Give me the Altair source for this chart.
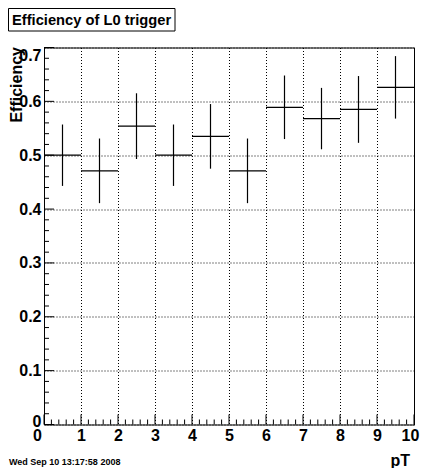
import altair as alt
import pandas as pd

# ---- data ----
bin_low = [0, 1, 2, 3, 4, 5, 6, 7, 8, 9]
bin_high = [1, 2, 3, 4, 5, 6, 7, 8, 9, 10]
efficiency = [0.500, 0.471, 0.554, 0.500, 0.535, 0.471, 0.589, 0.568, 0.585, 0.626]
error = [0.057, 0.060, 0.061, 0.057, 0.060, 0.060, 0.059, 0.057, 0.062, 0.058]

x_major = [0, 1, 2, 3, 4, 5, 6, 7, 8, 9, 10]
x_minor = [round(i * 0.2, 1) for i in range(51) if i % 5 != 0]
y_major = [0, 0.1, 0.2, 0.3, 0.4, 0.5, 0.6, 0.7]
y_minor = [round(i * 0.02, 2) for i in range(36) if i % 5 != 0]

title_text = "Efficiency of L0 trigger"
y_title = "Efficiency"
x_title = "pT"
date_text = "Wed Sep 10 13:17:58 2008"

# ---- layout ----
W, H = 370, 377
FONT = "Liberation Sans"

df = pd.DataFrame({
    "lo": bin_low,
    "hi": bin_high,
    "center": [(a + b) / 2 for a, b in zip(bin_low, bin_high)],
    "eff": efficiency,
    "elo": [e - d for e, d in zip(efficiency, error)],
    "ehi": [e + d for e, d in zip(efficiency, error)],
})

xs = alt.Scale(domain=[0, 10], nice=False, zero=False)
ys = alt.Scale(domain=[0, 0.7], nice=False, zero=False)

x_axis = alt.Axis(
    values=x_major, format="d", title=None, domain=False, ticks=False,
    grid=True, gridColor="black", gridDash=[1, 2], gridWidth=1, gridOpacity=1,
    labelFont=FONT, labelFontSize=16, labelFontWeight="bold", labelColor="black",
    labelPadding=3, labelOverlap=False, labelBound=False, labelFlush=False,
    labelOffset={"condition": [{"test": "datum.value == 0", "value": -7},
                               {"test": "datum.value == 10", "value": -4}],
                 "value": 0},
)
y_axis = alt.Axis(
    values=y_major, title=None, domain=False, ticks=False,
    labelExpr="datum.value == 0 ? '0' : format(datum.value, '.1f')",
    grid=True, gridColor="black", gridDash=[1, 2], gridWidth=1, gridOpacity=1,
    labelFont=FONT, labelFontSize=16, labelFontWeight="bold", labelColor="black",
    labelPadding=3, labelOverlap=False, labelBound=False, labelFlush=False,
    labelBaseline={"condition": {"test": "datum.value > 0.65", "value": "top"},
                   "value": "middle"},
    labelOffset={"condition": {"test": "datum.value == 0", "value": -3}, "value": 0},
)

hbar = alt.Chart(df).mark_rule(color="black", strokeWidth=1.2).encode(
    x=alt.X("lo:Q", scale=xs, axis=x_axis),
    x2="hi:Q",
    y=alt.Y("eff:Q", scale=ys, axis=y_axis),
)
vbar = alt.Chart(df).mark_rule(color="black", strokeWidth=1.2).encode(
    x=alt.X("center:Q", scale=xs, axis=x_axis),
    y=alt.Y("elo:Q", scale=ys, axis=y_axis),
    y2="ehi:Q",
)

ymaj = alt.Chart(pd.DataFrame({"v": y_major})).mark_rule(color="black", strokeWidth=1).encode(
    y=alt.Y("v:Q", scale=ys, axis=y_axis), x=alt.value(0), x2=alt.value(10))
ymin = alt.Chart(pd.DataFrame({"v": y_minor})).mark_rule(color="black", strokeWidth=1).encode(
    y=alt.Y("v:Q", scale=ys, axis=y_axis), x=alt.value(0), x2=alt.value(5))
xmaj = alt.Chart(pd.DataFrame({"v": x_major})).mark_rule(color="black", strokeWidth=1).encode(
    x=alt.X("v:Q", scale=xs, axis=x_axis), y=alt.value(H), y2=alt.value(H - 10))
xmin = alt.Chart(pd.DataFrame({"v": x_minor})).mark_rule(color="black", strokeWidth=1).encode(
    x=alt.X("v:Q", scale=xs, axis=x_axis), y=alt.value(H), y2=alt.value(H - 5))

one = pd.DataFrame({"t": [title_text]})
title_box = alt.Chart(one).mark_rect(fill="white", stroke="black", strokeWidth=1).encode(
    x=alt.value(-35.5), x2=alt.value(131), y=alt.value(-39), y2=alt.value(-16.5))
title = alt.Chart(one).mark_text(
    align="left", baseline="alphabetic", font=FONT, fontSize=14.7, fontWeight="bold", color="black"
).encode(x=alt.value(-32), y=alt.value(-22.4), text="t:N")

ytitle = alt.Chart(pd.DataFrame({"t": [y_title]})).mark_text(
    align="right", baseline="alphabetic", angle=270, font=FONT, fontSize=16,
    fontWeight="bold", color="black"
).encode(x=alt.value(-22), y=alt.value(-0.5), text="t:N")

xtitle = alt.Chart(pd.DataFrame({"t": [x_title]})).mark_text(
    align="right", baseline="alphabetic", font=FONT, fontSize=16,
    fontWeight="bold", color="black"
).encode(x=alt.value(366), y=alt.value(418), text="t:N")

date = alt.Chart(pd.DataFrame({"t": [date_text]})).mark_text(
    align="left", baseline="alphabetic", font=FONT, fontSize=9,
    fontWeight="bold", color="black"
).encode(x=alt.value(-35), y=alt.value(417), text="t:N")

chart = alt.layer(
    ymin, ymaj, xmin, xmaj, hbar, vbar, title_box, title, ytitle, xtitle, date
).properties(
    width=W, height=H,
    padding={"left": 36, "top": 39.5, "right": 12, "bottom": 43.5},
    autosize=alt.AutoSizeParams(type="none"),
    background="white",
).configure_view(stroke="black", strokeWidth=1)

chart.save("out.html", embed_options={"renderer": "svg", "actions": False})
